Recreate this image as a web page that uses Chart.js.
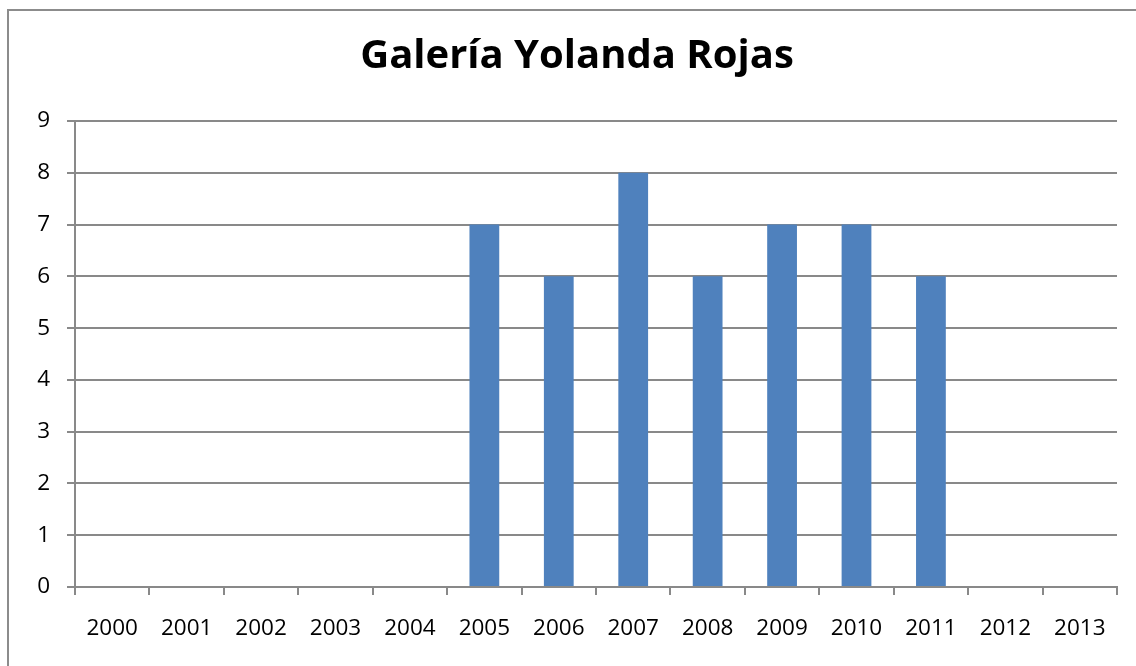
<!DOCTYPE html>
<html>
<head>
<meta charset="utf-8">
<script src="https://cdn.jsdelivr.net/npm/chart.js@4.4.1/dist/chart.umd.min.js"></script>
<style>
  html, body { margin: 0; padding: 0; background: #fff; overflow: hidden; }
  #wrap { position: relative; width: 1136px; height: 666px; }
</style>
</head>
<body>
<div id="wrap"><canvas id="chart" width="1136" height="666"></canvas></div>
<script>
const years = ['2000', '2001', '2002', '2003', '2004', '2005', '2006', '2007', '2008', '2009', '2010', '2011', '2012', '2013'];
const counts = [0, 0, 0, 0, 0, 7, 6, 8, 6, 7, 7, 6, 0, 0];
const yTicks = [0, 1, 2, 3, 4, 5, 6, 7, 8, 9];

const gridGray = '#898989';
const labelFont = { family: 'Open Sans', size: 22.5 };

// outer frame of the chart object (only top and left edges are visible)
const framePlugin = {
    id: 'frame',
    beforeDraw(chart) {
        const c = chart.ctx;
        c.save();
        c.strokeStyle = '#8c8c8c';
        c.lineWidth = 2;
        c.beginPath();
        c.moveTo(8, chart.height + 5);
        c.lineTo(8, 10);
        c.lineTo(chart.width + 5, 10);
        c.stroke();
        c.restore();
    }
};

new Chart(document.getElementById('chart').getContext('2d'), {
    type: 'bar',
    data: {
        labels: years,
        datasets: [{
            data: counts,
            backgroundColor: '#4f81bd',
            borderWidth: 0,
            barPercentage: 0.8,
            categoryPercentage: 0.5
        }]
    },
    options: {
        responsive: false,
        animation: false,
        // left padding keeps the title centred on the frame, y axis box fills the rest up to x=75
        layout: { padding: { left: 37, right: 19, top: 0, bottom: 0 } },
        plugins: {
            legend: { display: false },
            tooltip: { enabled: false },
            title: {
                display: true,
                text: 'Galería Yolanda Rojas',
                color: '#000',
                font: { family: 'Open Sans', size: 40, weight: 'bold', lineHeight: 1.2 },
                padding: { top: 33, bottom: 40 }
            }
        },
        scales: {
            x: {
                offset: true,
                grid: {
                    offset: true,
                    drawOnChartArea: false,
                    drawTicks: true,
                    tickLength: 8,
                    color: gridGray,
                    lineWidth: 2
                },
                border: { color: gridGray, width: 2 },
                ticks: { color: '#000', font: labelFont, padding: 20, maxRotation: 0, autoSkip: false },
                afterFit(axis) { axis.height = 79; }
            },
            y: {
                min: 0,
                max: 9,
                afterBuildTicks(axis) { axis.ticks = yTicks.map(v => ({ value: v })); },
                grid: { color: gridGray, lineWidth: 2, tickLength: 8 },
                border: { color: gridGray, width: 2 },
                ticks: { color: '#000', font: labelFont, padding: 17 },
                afterFit(axis) { axis.width = 38; }
            }
        }
    },
    plugins: [framePlugin]
});
</script>
</body>
</html>
